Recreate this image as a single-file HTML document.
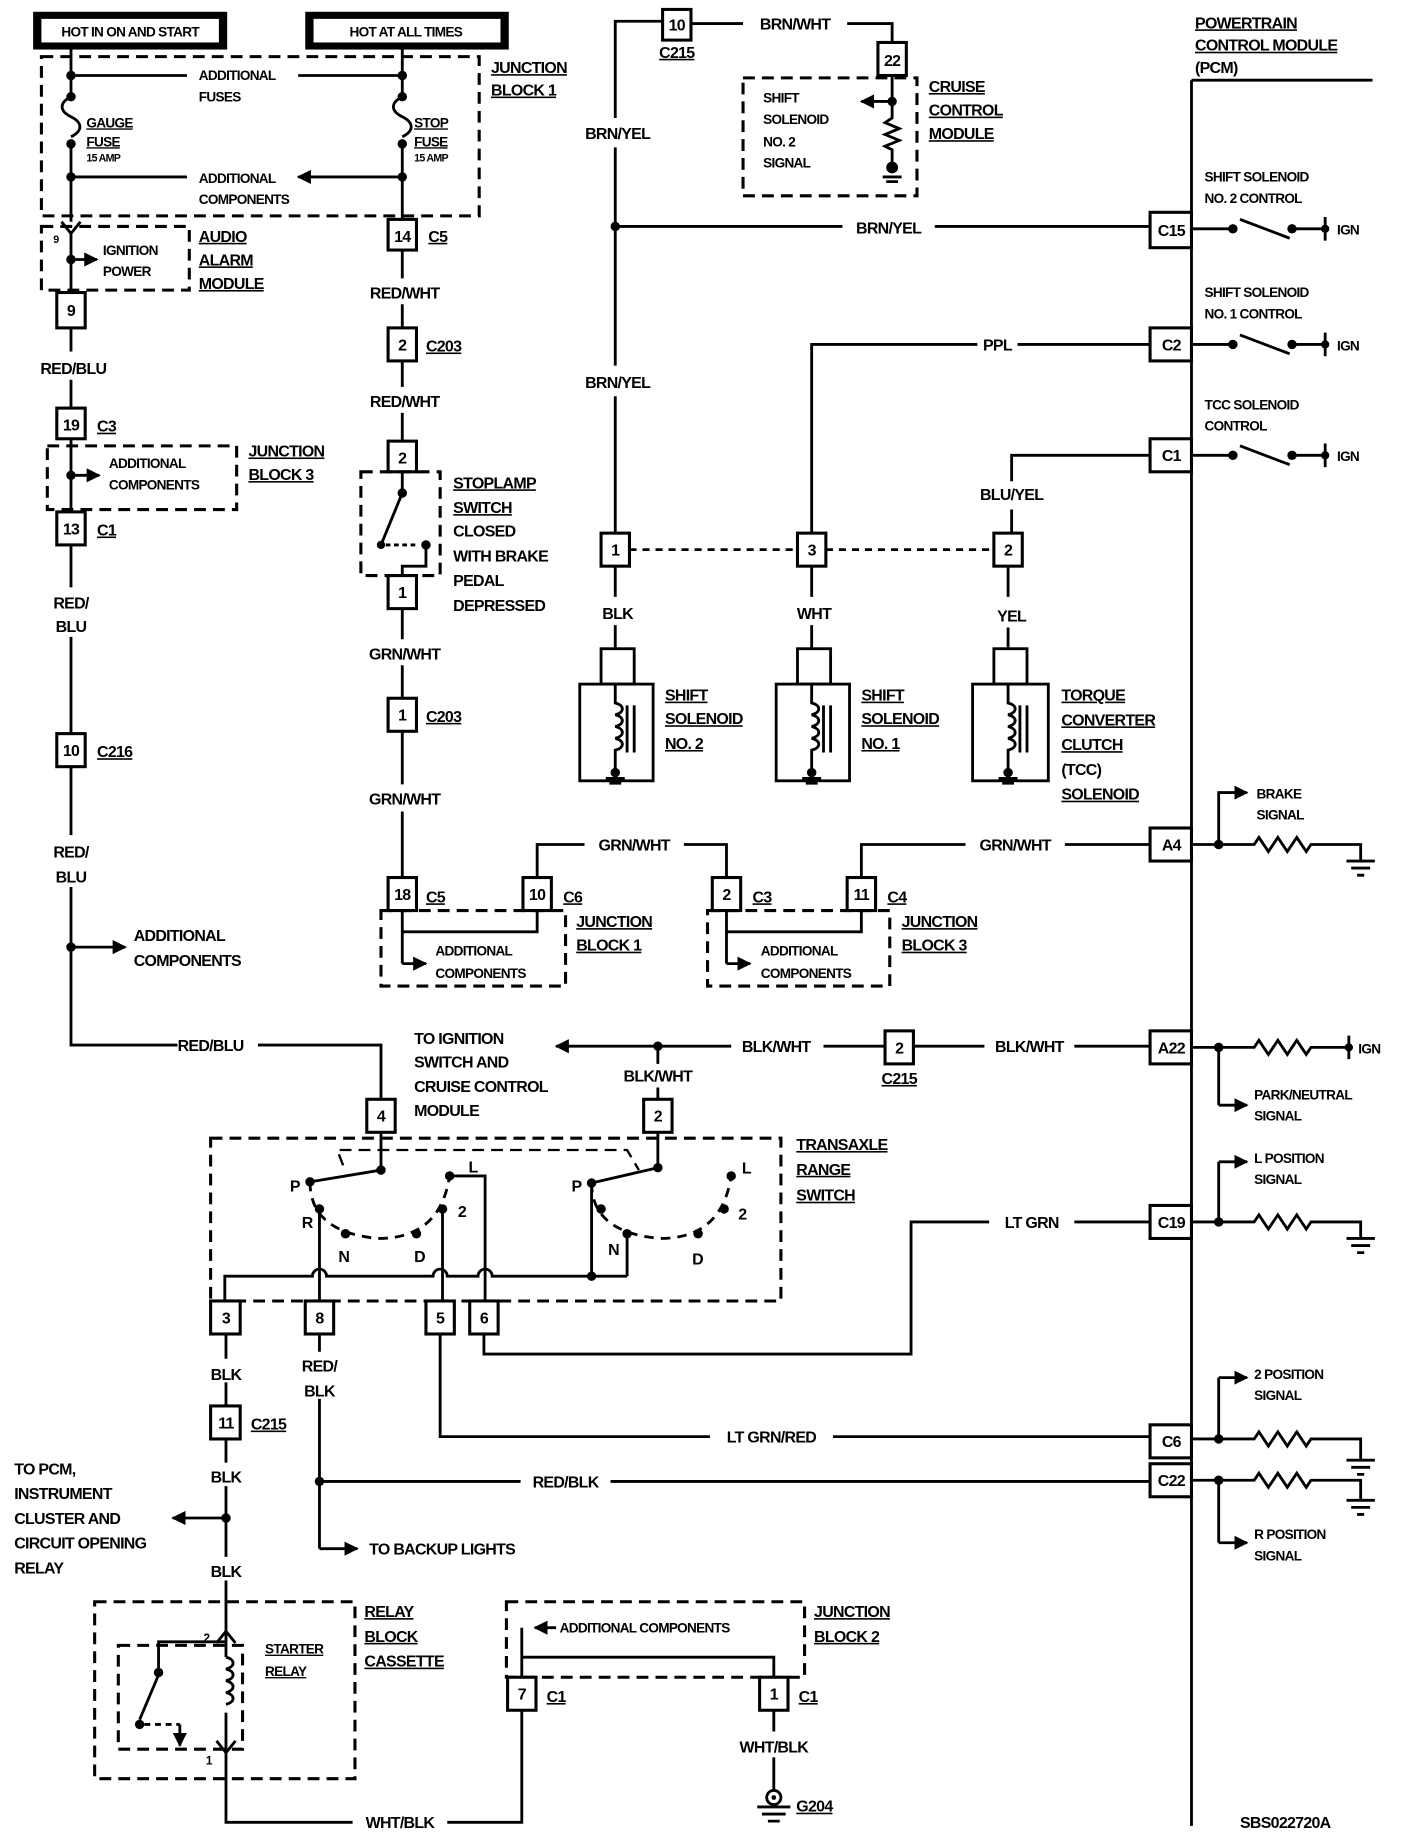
<!DOCTYPE html>
<html><head><meta charset="utf-8"><style>
html,body{margin:0;padding:0;background:#fff}
svg{display:block}
.w{stroke:#000;stroke-width:2.4;fill:none}
.d{stroke:#000;stroke-width:2.6;fill:none;stroke-dasharray:10 6}
.b{stroke:#000;stroke-width:2.6;fill:#fff}
text{font-family:"Liberation Sans",sans-serif;font-weight:bold;font-size:13.5px;letter-spacing:-0.6px;fill:#000}
.s{font-size:11.5px}
.u{text-decoration:underline}
.c{text-anchor:middle}
</style></head><body>
<svg width="1408" height="1840" viewBox="0 0 1190 1560" preserveAspectRatio="none" xmlns="http://www.w3.org/2000/svg">
<defs>
<marker id="a" viewBox="0 0 10 10" refX="9" refY="5" markerWidth="5" markerHeight="5" orient="auto"><path d="M0,0L10,5L0,10z"/></marker>
</defs>
<rect width="1190" height="1560" fill="#fff"/>
<rect x="28" y="10" width="164" height="32" fill="#000"/><rect x="35" y="16" width="150" height="20" fill="#fff"/>
<text x="110" y="31" class="c s">HOT IN ON AND START</text>
<rect x="258" y="10" width="172" height="32" fill="#000"/><rect x="265" y="16" width="158" height="20" fill="#fff"/>
<text x="343" y="31" class="c s">HOT AT ALL TIMES</text>
<rect x="35" y="48" width="370" height="135" class="d"/>
<path class="w" d="M60,42V82M60,122V188M340,42V82M340,122V186"/>
<path class="w" d="M60,82c-10,5-10,12,0,17c10,5,10,12,0,17M340,82c-10,5-10,12,0,17c10,5,10,12,0,17"/>
<circle cx="60" cy="64" r="4"/><circle cx="60" cy="82" r="4"/><circle cx="60" cy="122" r="4"/><circle cx="60" cy="150" r="4"/>
<circle cx="340" cy="64" r="4"/><circle cx="340" cy="82" r="4"/><circle cx="340" cy="122" r="4"/><circle cx="340" cy="150" r="4"/>
<path class="w" marker-end="url(#a)" d="M60,64H158M60,150H158M340,64H252M340,150H252"/>
<text x="168" y="68" class="s">ADDITIONAL</text><text x="168" y="86" class="s">FUSES</text>
<text x="168" y="155" class="s">ADDITIONAL</text><text x="168" y="173" class="s">COMPONENTS</text>
<text x="73" y="108" class="s u">GAUGE</text><text x="73" y="124" class="s u">FUSE</text><text x="73" y="137" style="font-size:9px">15 AMP</text>
<text x="350" y="108" class="s u">STOP</text><text x="350" y="124" class="s u">FUSE</text><text x="350" y="137" style="font-size:9px">15 AMP</text>
<text x="415" y="62" class="u">JUNCTION</text><text x="415" y="81" class="u">BLOCK 1</text>
<rect x="328" y="186" width="24" height="26" class="b"/><text x="340" y="205" class="c">14</text><text x="362" y="205" class="u">C5</text>
<rect x="35" y="192" width="125" height="54" class="d"/>
<path class="w" d="M52,188L60,198L68,188M60,198V248"/>
<text x="45" y="206" style="font-size:9px">9</text>
<circle cx="60" cy="220" r="4"/><path class="w" marker-end="url(#a)" d="M60,220H82"/>
<text x="87" y="216" class="s">IGNITION</text><text x="87" y="234" class="s">POWER</text>
<text x="168" y="205" class="u">AUDIO</text><text x="168" y="225" class="u">ALARM</text><text x="168" y="245" class="u">MODULE</text>
<rect x="48" y="248" width="24" height="30" class="b"/><text x="60" y="268" class="c">9</text>
<path class="w" d="M60,278V298M60,322V346"/>
<text x="62" y="317" class="c">RED/BLU</text>
<rect x="48" y="346" width="24" height="26" class="b"/><text x="60" y="365" class="c">19</text><text x="82" y="366" class="u">C3</text>
<rect x="40" y="378" width="160" height="54" class="d"/>
<path class="w" d="M60,372V434"/><circle cx="60" cy="403" r="4"/><path class="w" marker-end="url(#a)" d="M60,403H84"/>
<text x="92" y="397" class="s">ADDITIONAL</text><text x="92" y="415" class="s">COMPONENTS</text>
<text x="210" y="387" class="u">JUNCTION</text><text x="210" y="407" class="u">BLOCK 3</text>
<rect x="48" y="434" width="24" height="28" class="b"/><text x="60" y="453" class="c">13</text><text x="82" y="454" class="u">C1</text>
<path class="w" d="M60,462V498M60,540V622M60,650V708M60,752V886H322V932"/>
<text x="60" y="516" class="c">RED/</text><text x="60" y="536" class="c">BLU</text>
<rect x="48" y="622" width="24" height="28" class="b"/><text x="60" y="641" class="c">10</text><text x="82" y="642" class="u">C216</text>
<text x="60" y="727" class="c">RED/</text><text x="60" y="748" class="c">BLU</text>
<circle cx="60" cy="803" r="4"/><path class="w" marker-end="url(#a)" d="M60,803H106"/>
<text x="113" y="798">ADDITIONAL</text><text x="113" y="819">COMPONENTS</text>
<rect x="150" y="878" width="68" height="16" fill="#fff"/><text x="178" y="891" class="c">RED/BLU</text>
<path class="w" d="M340,212V236M340,258V278M340,306V328M340,350V374M340,400V416M360,462V480H340V488M340,516V542M340,564V592M340,620V665M340,688V744"/>
<text x="342" y="253" class="c">RED/WHT</text>
<rect x="328" y="278" width="24" height="28" class="b"/><text x="340" y="297" class="c">2</text><text x="360" y="298" class="u">C203</text>
<text x="342" y="345" class="c">RED/WHT</text>
<rect x="328" y="374" width="24" height="26" class="b"/><text x="340" y="393" class="c">2</text>
<rect x="305" y="400" width="67" height="88" class="d"/>
<circle cx="340" cy="418" r="4"/><path class="w" d="M340,418L322,462"/><circle cx="322" cy="462" r="3.5"/><circle cx="360" cy="462" r="4"/><path class="w" d="M326,462H354" stroke-dasharray="4 3"/>
<rect x="328" y="488" width="24" height="28" class="b"/><text x="340" y="507" class="c">1</text>
<text x="383" y="414" class="u">STOPLAMP</text><text x="383" y="435" class="u">SWITCH</text><text x="383" y="455">CLOSED</text><text x="383" y="476">WITH BRAKE</text><text x="383" y="497">PEDAL</text><text x="383" y="518">DEPRESSED</text>
<text x="342" y="559" class="c">GRN/WHT</text>
<rect x="328" y="592" width="24" height="28" class="b"/><text x="340" y="611" class="c">1</text><text x="360" y="612" class="u">C203</text>
<text x="342" y="682" class="c">GRN/WHT</text>
<rect x="328" y="744" width="24" height="28" class="b"/><text x="340" y="763" class="c">18</text><text x="360" y="765" class="u">C5</text>
<rect x="442" y="744" width="24" height="28" class="b"/><text x="454" y="763" class="c">10</text><text x="476" y="765" class="u">C6</text>
<path class="w" d="M454,744V716H494M578,716H614V744"/>
<text x="536" y="721" class="c">GRN/WHT</text>
<rect x="602" y="744" width="24" height="28" class="b"/><text x="614" y="763" class="c">2</text><text x="636" y="765" class="u">C3</text>
<rect x="322" y="772" width="156" height="64" class="d"/>
<path class="w" d="M340,772V817M454,772V790H340"/><path class="w" marker-end="url(#a)" d="M340,817H360"/>
<text x="368" y="810" class="s">ADDITIONAL</text><text x="368" y="829" class="s">COMPONENTS</text>
<text x="487" y="786" class="u">JUNCTION</text><text x="487" y="806" class="u">BLOCK 1</text>
<rect x="716" y="744" width="24" height="28" class="b"/><text x="728" y="763" class="c">11</text><text x="750" y="765" class="u">C4</text>
<path class="w" d="M728,744V716H816M900,716H972"/>
<text x="858" y="721" class="c">GRN/WHT</text>
<rect x="598" y="772" width="154" height="64" class="d"/>
<path class="w" d="M614,772V817M728,772V790H614"/><path class="w" marker-end="url(#a)" d="M614,817H634"/>
<text x="643" y="810" class="s">ADDITIONAL</text><text x="643" y="829" class="s">COMPONENTS</text>
<text x="762" y="786" class="u">JUNCTION</text><text x="762" y="806" class="u">BLOCK 3</text>
<path class="w" d="M520,100V18H560M584,20H628M716,20H754V36M520,125V310M520,336V452"/>
<rect x="560" y="8" width="24" height="26" class="b"/><text x="572" y="26" class="c">10</text><text x="572" y="49" class="c u">C215</text>
<text x="672" y="25" class="c">BRN/WHT</text>
<rect x="742" y="36" width="24" height="28" class="b"/><text x="754" y="56" class="c">22</text>
<rect x="628" y="66" width="147" height="100" class="d"/>
<path class="w" d="M754,64V100l-6,4l12,5l-12,5l12,5l-12,5l6,3V140"/>
<circle cx="754" cy="86" r="4"/><path class="w" marker-end="url(#a)" d="M754,86H728"/>
<circle cx="754" cy="142" r="5"/><path class="w" d="M746,150H762M749,154H759"/>
<text x="645" y="87" class="s">SHIFT</text><text x="645" y="105" class="s">SOLENOID</text><text x="645" y="124" class="s">NO. 2</text><text x="645" y="142" class="s">SIGNAL</text>
<text x="785" y="78" class="u">CRUISE</text><text x="785" y="98" class="u">CONTROL</text><text x="785" y="118" class="u">MODULE</text>
<text x="522" y="118" class="c">BRN/YEL</text>
<circle cx="520" cy="192" r="4"/><path class="w" d="M520,192H712M790,192H972"/>
<text x="751" y="198" class="c">BRN/YEL</text>
<text x="522" y="329" class="c">BRN/YEL</text>
<path class="w" d="M686,452V292H826M860,292H972M855,452V432M855,408V386H972"/>
<text x="843" y="297" class="c">PPL</text>
<text x="855" y="424" class="c">BLU/YEL</text>
<path class="w" d="M532,466H674M698,466H840" stroke-dasharray="6 5"/>
<rect x="508" y="452" width="24" height="28" class="b"/><text x="520" y="471" class="c">1</text>
<rect x="674" y="452" width="24" height="28" class="b"/><text x="686" y="471" class="c">3</text>
<rect x="840" y="452" width="24" height="28" class="b"/><text x="852" y="471" class="c">2</text>
<path class="w" d="M520,480V506M686,480V506M852,480V506M520,530V550M686,530V550M852,532V550"/>
<text x="522" y="525" class="c">BLK</text><text x="688" y="525" class="c">WHT</text><text x="855" y="527" class="c">YEL</text>
<g class="w">
<rect x="508" y="550" width="28" height="30"/><rect x="490" y="580" width="62" height="82"/>
<path d="M520,580V596c8,2 8,8 0,10c8,2 8,8 0,10c8,2 8,8 0,10c8,2 8,8 0,10V652M530,598V638M536,598V638"/>
<rect x="674" y="550" width="28" height="30"/><rect x="656" y="580" width="62" height="82"/>
<path d="M686,580V596c8,2 8,8 0,10c8,2 8,8 0,10c8,2 8,8 0,10c8,2 8,8 0,10V652M696,598V638M702,598V638"/>
<rect x="840" y="550" width="28" height="30"/><rect x="822" y="580" width="64" height="82"/>
<path d="M852,580V596c8,2 8,8 0,10c8,2 8,8 0,10c8,2 8,8 0,10c8,2 8,8 0,10V652M862,598V638M868,598V638"/>
<path d="M512,660H528M515,664H525M678,660H694M681,664H691M844,660H860M847,664H857"/>
</g>
<circle cx="520" cy="655" r="4"/><circle cx="686" cy="655" r="4"/><circle cx="852" cy="655" r="4"/>
<text x="562" y="594" class="u">SHIFT</text><text x="562" y="614" class="u">SOLENOID</text><text x="562" y="635" class="u">NO. 2</text>
<text x="728" y="594" class="u">SHIFT</text><text x="728" y="614" class="u">SOLENOID</text><text x="728" y="635" class="u">NO. 1</text>
<text x="897" y="594" class="u">TORQUE</text><text x="897" y="615" class="u">CONVERTER</text><text x="897" y="636" class="u">CLUTCH</text><text x="897" y="657">(TCC)</text><text x="897" y="678" class="u">SOLENOID</text>
<path class="w" d="M1007,68V1548M1007,68H1160"/>
<text x="1010" y="24" class="u">POWERTRAIN</text><text x="1010" y="43" class="u">CONTROL MODULE</text><text x="1010" y="62">(PCM)</text>
<g>
<rect x="972" y="180" width="35" height="30" class="b"/><text x="990" y="200" class="c">C15</text>
<rect x="972" y="278" width="35" height="28" class="b"/><text x="990" y="297" class="c">C2</text>
<rect x="972" y="372" width="35" height="28" class="b"/><text x="990" y="391" class="c">C1</text>
<rect x="972" y="702" width="35" height="28" class="b"/><text x="990" y="721" class="c">A4</text>
<rect x="972" y="874" width="35" height="28" class="b"/><text x="990" y="893" class="c">A22</text>
<rect x="972" y="1022" width="35" height="28" class="b"/><text x="990" y="1041" class="c">C19</text>
<rect x="972" y="1208" width="35" height="28" class="b"/><text x="990" y="1227" class="c">C6</text>
<rect x="972" y="1241" width="35" height="28" class="b"/><text x="990" y="1260" class="c">C22</text>
</g>
<g class="w">
<path d="M1007,194H1042M1048,186L1090,202M1092,194H1120M1120,184V204"/>
<path d="M1007,292H1042M1048,284L1090,300M1092,292H1120M1120,282V302"/>
<path d="M1007,386H1042M1048,378L1090,394M1092,386H1120M1120,376V396"/>
</g>
<circle cx="1042" cy="194" r="4"/><circle cx="1092" cy="194" r="4"/><circle cx="1120" cy="194" r="3.5"/>
<circle cx="1042" cy="292" r="4"/><circle cx="1092" cy="292" r="4"/><circle cx="1120" cy="292" r="3.5"/>
<circle cx="1042" cy="386" r="4"/><circle cx="1092" cy="386" r="4"/><circle cx="1120" cy="386" r="3.5"/>
<text x="1130" y="199" class="s">IGN</text><text x="1130" y="297" class="s">IGN</text><text x="1130" y="391" class="s">IGN</text>
<text x="1018" y="154" class="s">SHIFT SOLENOID</text><text x="1018" y="172" class="s">NO. 2 CONTROL</text>
<text x="1018" y="252" class="s">SHIFT SOLENOID</text><text x="1018" y="270" class="s">NO. 1 CONTROL</text>
<text x="1018" y="347" class="s">TCC SOLENOID</text><text x="1018" y="365" class="s">CONTROL</text>
<g class="w">
<path d="M1007,716H1060l4,-6l8,12l8,-12l8,12l8,-12l8,12l4,-6H1150V730M1138,730H1162M1142,736H1158M1147,742H1153"/>
<path d="M1030,716V672H1050"/>
<path d="M1007,888H1060l4,-6l8,12l8,-12l8,12l8,-12l8,12l4,-6H1140M1140,878V898"/>
<path d="M1030,888V937"/>
<path d="M1007,1036H1060l4,-6l8,12l8,-12l8,12l8,-12l8,12l4,-6H1150V1050M1138,1050H1162M1142,1056H1158M1147,1062H1153"/>
<path d="M1030,1036V985"/>
<path d="M1007,1220H1060l4,-6l8,12l8,-12l8,12l8,-12l8,12l4,-6H1150V1238M1138,1238H1162M1142,1244H1158M1147,1250H1153"/>
<path d="M1030,1220V1168"/>
<path d="M1007,1255H1060l4,-6l8,12l8,-12l8,12l8,-12l8,12l4,-6H1150V1272M1138,1272H1162M1142,1278H1158M1147,1284H1153"/>
<path d="M1030,1255V1308"/>
</g>
<g class="w" marker-end="url(#a)"><path d="M1030,672H1054"/><path d="M1030,937H1054"/><path d="M1030,985H1054"/><path d="M1030,1168H1054"/><path d="M1030,1308H1054"/></g>
<circle cx="1030" cy="716" r="4"/><circle cx="1030" cy="888" r="4"/><circle cx="1030" cy="1036" r="4"/><circle cx="1030" cy="1220" r="4"/><circle cx="1030" cy="1255" r="4"/><circle cx="1140" cy="888" r="3.5"/>
<text x="1148" y="893" class="s">IGN</text>
<text x="1062" y="677" class="s">BRAKE</text><text x="1062" y="695" class="s">SIGNAL</text>
<text x="1060" y="932" class="s">PARK/NEUTRAL</text><text x="1060" y="950" class="s">SIGNAL</text>
<text x="1060" y="986" class="s">L POSITION</text><text x="1060" y="1004" class="s">SIGNAL</text>
<text x="1060" y="1169" class="s">2 POSITION</text><text x="1060" y="1187" class="s">SIGNAL</text>
<text x="1060" y="1305" class="s">R POSITION</text><text x="1060" y="1323" class="s">SIGNAL</text>
<text x="350" y="885">TO IGNITION</text><text x="350" y="905">SWITCH AND</text><text x="350" y="926">CRUISE CONTROL</text><text x="350" y="946">MODULE</text>
<path class="w" marker-end="url(#a)" d="M556,887H470"/>
<circle cx="556" cy="887" r="4"/>
<path class="w" d="M556,887H618M696,887H748M772,887H832M908,887H972M556,887V902M556,922V932"/>
<text x="656" y="892" class="c">BLK/WHT</text><text x="870" y="892" class="c">BLK/WHT</text><text x="556" y="917" class="c">BLK/WHT</text>
<rect x="748" y="874" width="24" height="28" class="b"/><text x="760" y="893" class="c">2</text><text x="760" y="919" class="c u">C215</text>
<rect x="310" y="932" width="24" height="28" class="b"/><text x="322" y="951" class="c">4</text>
<rect x="544" y="932" width="24" height="28" class="b"/><text x="556" y="951" class="c">2</text>
<rect x="178" y="965" width="482" height="138" class="d"/>
<text x="673" y="975" class="u">TRANSAXLE</text><text x="673" y="996" class="u">RANGE</text><text x="673" y="1018" class="u">SWITCH</text>
<path class="d" style="stroke-width:2" d="M290,988L285,975H530L540,992"/>
<g class="w">
<path d="M322,960V992L262,1002M556,960V990L500,1003"/>
<path d="M262,1002Q262,1045 320,1050Q372,1050 380,997" stroke-dasharray="8 6"/>
<path d="M500,1003Q500,1045 558,1050Q610,1050 618,997" stroke-dasharray="8 6"/>
<path d="M270,1025V1103M374,1025V1103M380,997H410V1103M500,1003V1082M530,1046V1082"/>
<path d="M190,1103V1082H264a6,6 0 0 1 12,0H366a6,6 0 0 1 12,0H404a6,6 0 0 1 12,0H530"/>
</g>
<circle cx="322" cy="992" r="4"/><circle cx="262" cy="1002" r="4"/><circle cx="270" cy="1025" r="4"/><circle cx="292" cy="1046" r="4"/><circle cx="352" cy="1046" r="4"/><circle cx="374" cy="1025" r="4"/><circle cx="380" cy="997" r="4"/>
<circle cx="556" cy="990" r="4"/><circle cx="500" cy="1003" r="4"/><circle cx="508" cy="1025" r="4"/><circle cx="530" cy="1046" r="4"/><circle cx="590" cy="1046" r="4"/><circle cx="612" cy="1025" r="4"/><circle cx="618" cy="997" r="4"/><circle cx="500" cy="1082" r="4"/>
<g style="font-size:9px"><text x="245" y="1010">P</text><text x="255" y="1041">R</text><text x="286" y="1070">N</text><text x="350" y="1070">D</text><text x="387" y="1032">2</text><text x="396" y="994">L</text>
<text x="483" y="1010">P</text><text x="514" y="1064">N</text><text x="585" y="1072">D</text><text x="624" y="1034">2</text><text x="627" y="995">L</text></g>
<rect x="178" y="1103" width="25" height="28" class="b"/><text x="191" y="1122" class="c">3</text>
<rect x="258" y="1103" width="24" height="28" class="b"/><text x="270" y="1122" class="c">8</text>
<rect x="360" y="1103" width="24" height="28" class="b"/><text x="372" y="1122" class="c">5</text>
<rect x="397" y="1103" width="24" height="28" class="b"/><text x="409" y="1122" class="c">6</text>
<path class="w" d="M409,1131V1148H770V1036H836M908,1036H972"/>
<text x="872" y="1041" class="c">LT GRN</text>
<path class="w" d="M372,1131V1218H600M704,1218H972"/>
<text x="652" y="1223" class="c">LT GRN/RED</text>
<path class="w" d="M270,1131V1146M270,1186V1313M270,1256H440M516,1256H972"/>
<text x="270" y="1163" class="c">RED/</text><text x="270" y="1184" class="c">BLK</text>
<text x="478" y="1261" class="c">RED/BLK</text>
<circle cx="270" cy="1256" r="4"/><path class="w" marker-end="url(#a)" d="M270,1313H302"/>
<text x="312" y="1318">TO BACKUP LIGHTS</text>
<path class="w" d="M191,1131V1152M191,1172V1192M191,1220V1240M191,1260V1320M191,1340V1545H298M378,1545H441V1450"/>
<text x="191" y="1170" class="c">BLK</text>
<rect x="178" y="1192" width="25" height="28" class="b"/><text x="191" y="1211" class="c">11</text><text x="212" y="1212" class="u">C215</text>
<text x="191" y="1257" class="c">BLK</text>
<circle cx="191" cy="1287" r="4"/><path class="w" marker-end="url(#a)" d="M191,1287H146"/>
<text x="12" y="1250">TO PCM,</text><text x="12" y="1271">INSTRUMENT</text><text x="12" y="1292">CLUSTER AND</text><text x="12" y="1313">CIRCUIT OPENING</text><text x="12" y="1334">RELAY</text>
<text x="191" y="1337" class="c">BLK</text>
<rect x="80" y="1358" width="220" height="150" class="d"/>
<rect x="100" y="1395" width="105" height="88" class="d"/>
<text x="308" y="1371" class="u">RELAY</text><text x="308" y="1392" class="u">BLOCK</text><text x="308" y="1413" class="u">CASSETTE</text>
<text x="224" y="1402" class="s u">STARTER</text><text x="224" y="1421" class="s u">RELAY</text>
<path class="w" d="M183,1393L191,1383L199,1393M183,1476L191,1486L199,1476"/>
<path class="w" style="stroke:#fff;stroke-width:4" d="M191,1405V1452"/>
<path class="w" d="M191,1405c8,2 8,8 0,10c8,2 8,8 0,10c8,2 8,8 0,10c8,2 8,8 0,10"/>
<path class="w" d="M191,1392H134V1418M134,1420L118,1458"/>
<circle cx="134" cy="1418" r="4"/><circle cx="118" cy="1462" r="4"/>
<path class="w" d="M122,1462H152" stroke-dasharray="5 4"/><path class="w" marker-end="url(#a)" d="M152,1462V1480"/>
<text x="172" y="1392" style="font-size:10px">2</text><text x="174" y="1496" style="font-size:10px">1</text>
<text x="338" y="1550" class="c">WHT/BLK</text>
<rect x="428" y="1358" width="252" height="64" class="d"/>
<path class="w" d="M441,1422V1405H654V1422M441,1405V1380"/><path class="w" marker-end="url(#a)" d="M470,1380H452"/>
<text x="473" y="1384" class="s">ADDITIONAL COMPONENTS</text>
<text x="688" y="1371" class="u">JUNCTION</text><text x="688" y="1392" class="u">BLOCK 2</text>
<rect x="429" y="1422" width="24" height="28" class="b"/><text x="441" y="1441" class="c">7</text><text x="462" y="1443" class="u">C1</text>
<rect x="642" y="1422" width="24" height="28" class="b"/><text x="654" y="1441" class="c">1</text><text x="675" y="1443" class="u">C1</text>
<path class="w" d="M654,1450V1468M654,1490V1518"/>
<text x="654" y="1486" class="c">WHT/BLK</text>
<circle cx="654" cy="1524" r="6" class="w"/><circle cx="654" cy="1524" r="2"/>
<path class="w" d="M640,1532H668M644,1538H664M649,1544H659"/>
<text x="673" y="1536" class="u">G204</text>
<text x="1048" y="1550">SBS022720A</text>
</svg>
</body></html>
